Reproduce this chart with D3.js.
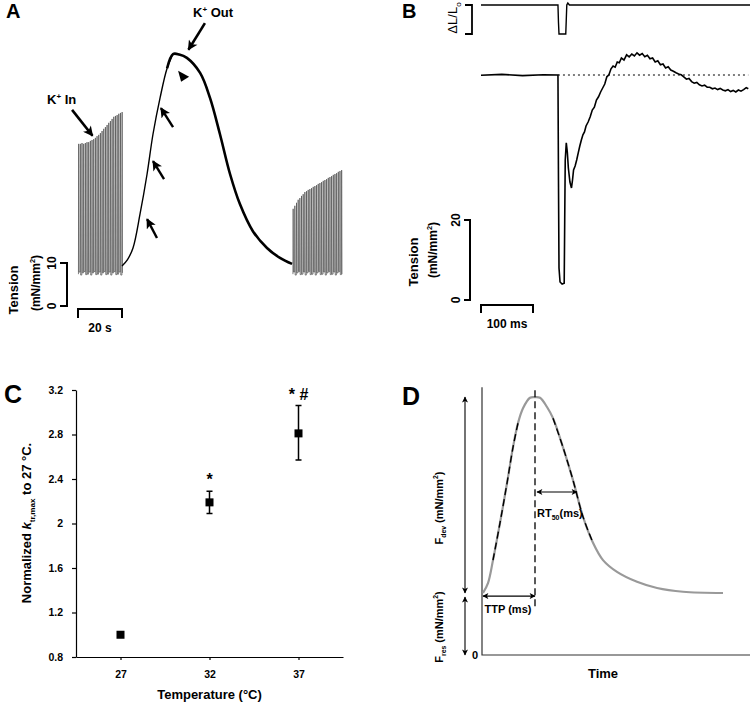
<!DOCTYPE html>
<html><head><meta charset="utf-8">
<script src="https://cdn.jsdelivr.net/npm/d3@7"></script>
<style>
body{margin:0;background:#fff}
text{font-family:"Liberation Sans",Arial,sans-serif;font-weight:bold;fill:#000}
</style></head>
<body><svg id="c" width="750" height="703"></svg>
<script>
// ---------------- Panel A data ----------------
const twitchPeriodA = 0.76;           // s between stimuli
const group1StartA = 0.2;             // s
const group1PeaksA = [37.7,37.7,37.9,37.7,37.9,38.1,38.1,38.4,38.6,38.8,39.1,39.5,39.8,40.2,40.7,41.2,41.6,42.1,42.6,43.0,43.5,44.0,44.2,44.4,44.7,44.9,45.1];
const group3StartA = 97.7;
const group3PeaksA = [22.6,23.3,24.0,24.7,25.1,25.6,26.0,26.5,26.7,27.0,27.2,27.4,27.7,27.9,28.1,28.4,28.6,28.8,29.1,29.3,29.5,29.8,30.0,30.2,30.5,30.7,30.9,31.2,31.4,31.6];
const twitchRestA = [7.4,7.9,7.2,7.7,8.0,7.3];
const contractureTime = [20.0,22.5,25.0,28.2,31.4,34.1,37.3,40.5,43.2,46.0,49.5,55.5,60.0,64.5,69.1,73.6,79.5,85.9,91.8,97.3];
const contractureTension = [9.3,10.8,13.5,21.4,30.7,40.0,48.4,55.3,58.6,58.5,57.7,54.2,48.4,40.0,30.7,23.7,17.4,13.5,11.2,9.8];
const arrowsA = [ // [tailT, tailF, headT, headF]
  [-2.7,45.6,6.6,39.6],
  [35.9,15.8,31.4,20.2],
  [39.1,29.5,34.1,33.7],
  [43.2,41.6,37.7,46.0],
  [57.7,65.8,50.2,59.6]
];
const triangleA = [45.5,54.7];

// ---------------- Panel B data ----------------
const lengthTime = [0,148,149,150,163,164,165,167,170,518];
const lengthValue = [0,0,-0.6,-1,-1,-0.5,0,0.07,0,0];
const tensionTimeB = [0,40,80,120,148,149,150,152,156,160,161,162,164,166,168,171,174,176,178,181,184,187,190,193,196,199,202,206,210,214,218,222,226,230,234,238,242,246,250,254,258,262,266,270,275,280,285,290,295,300,305,310,315,320,325,330,335,340,345,350,355,360,365,370,375,380,385,390,395,400,405,410,415,420,425,430,435,440,445,450,455,460,465,470,475,480,485,490,495,500,505,510,514];
const tensionValueB = [56.2,56.4,56.1,56.3,56.25,30,8,4.5,4.0,4.2,20,35,39.3,37,33,29.5,28,30,32.5,33.5,35,36.8,38.5,40,41.3,42,43.5,44.5,45.8,47.5,48.2,50,50.8,52,53,54,55.8,56.3,57.8,58.5,58.2,59.5,59.3,60.5,60,61.3,60.8,61.5,61,61.8,61.2,61.6,60.8,61.2,60.3,60.5,59.5,59.8,58.8,59,58,58.3,57.5,57.2,56.8,56.5,56.3,55.8,55.2,55.4,54.6,54.2,54.4,53.8,53.5,53.7,53.2,53.2,52.8,53,52.6,52.9,52.5,52.3,52.6,52.1,52.4,52.0,52.5,52.2,52.6,53.1,52.8];
const restTensionB = 56.25;

// ---------------- Panel C data ----------------
const temperatures = [27,32,37];
const ktrMean = [1.0,2.19,2.81];
const ktrLow = [1.0,2.09,2.57];
const ktrHigh = [1.0,2.29,3.06];
const ktrMarks = ["","*","* #"];
const yTicksC = [0.8,1.2,1.6,2,2.4,2.8,3.2];

// ---------------- Panel D data ----------------
const twitchTimeD = [2,12,22,36,50,62,72,82,96,106,116,130,142,162,182,202,222,242,270,310,350,402,482];
const twitchForceD = [10,11.6,15.3,21.3,27.7,33.5,37.4,39.8,41.5,41.6,41.5,40,38.2,33.5,28.2,22.3,18.1,15.3,13.4,11.8,10.8,10.2,10];

const svg = d3.select("#c");
const defs = svg.append("defs");
function marker(id, w, h, fill){
  defs.append("marker").attr("id",id).attr("viewBox","0 0 10 10")
    .attr("refX",9).attr("refY",5).attr("markerWidth",w).attr("markerHeight",h)
    .attr("markerUnits","userSpaceOnUse").attr("orient","auto-start-reverse")
    .append("path").attr("d","M0,0 L10,5 L0,10 L2.5,5 z").attr("fill",fill);
}
marker("headBig",11,10,"#000");
marker("headSmall",7,6,"#000");

function panelLabel(t,x,y,size){
  svg.append("text").attr("x",x).attr("y",y).attr("font-size",size).text(t);
}
function rotLabel(g,x,y,size,parts){
  const t = g.append("text").attr("transform",`translate(${x},${y}) rotate(-90)`)
    .attr("text-anchor","middle").attr("font-size",size);
  parts.forEach(p=>{
    const s = t.append("tspan").text(p.t);
    if(p.sub){ s.attr("font-size",size*0.62).attr("dy",size*0.3); }
    if(p.sup){ s.attr("font-size",size*0.62).attr("dy",-size*0.45); }
    if(p.back){ s.attr("dy",p.back); }
    if(p.it) s.attr("font-style","italic");
  });
  return t;
}

// ================= Panel A =================
panelLabel("A",6,18,20);
const xA = d3.scaleLinear().domain([0,20]).range([78,122]);
const yA = d3.scaleLinear().domain([0,10]).range([306,263]);
const gA = svg.append("g");

function twitchPath(start, peaks){
  let d = "";
  peaks.forEach((p,i)=>{
    const t = start + i*twitchPeriodA;
    const r0 = twitchRestA[i % twitchRestA.length];
    const r1 = twitchRestA[(i+1) % twitchRestA.length];
    d += (i===0?"M":"L") + xA(t)+","+yA(r0);
    d += "L"+xA(t+0.1)+","+yA(p);
    d += "L"+xA(t+0.25)+","+yA(r1);
  });
  return d;
}
gA.append("path").attr("d",twitchPath(group1StartA,group1PeaksA))
  .attr("fill","none").attr("stroke","#555").attr("stroke-width",0.75);
gA.append("path").attr("d",twitchPath(group3StartA,group3PeaksA))
  .attr("fill","none").attr("stroke","#555").attr("stroke-width",0.75);

const cPts = contractureTime.map((t,i)=>[t,contractureTension[i]]);
const lineA = d3.line().x(d=>xA(d[0])).y(d=>yA(d[1])).curve(d3.curveCatmullRom);
const peakIdx = d3.maxIndex(contractureTension);
gA.append("path").attr("d",lineA(cPts.slice(0,peakIdx+1)))
  .attr("fill","none").attr("stroke","#000").attr("stroke-width",1.4);
gA.append("path").attr("d",lineA(cPts.slice(peakIdx-1)))
  .attr("fill","none").attr("stroke","#000").attr("stroke-width",2.6);

arrowsA.forEach((a,i)=>{
  gA.append("line").attr("x1",xA(a[0])).attr("y1",yA(a[1])).attr("x2",xA(a[2])).attr("y2",yA(a[3]))
    .attr("stroke","#000").attr("stroke-width",i===0||i===4?2.6:2.4)
    .attr("marker-end",`url(#headBig)`);
});
{
  const ax = xA(triangleA[0]), ay = yA(triangleA[1]);
  gA.append("path").attr("d",`M${ax},${ay} L${ax+11},${ay+6} L${ax+3},${ay+11} Z`).attr("fill","#000");
}
// labels
{
  const t = gA.append("text").attr("x",47).attr("y",104).attr("font-size",13);
  t.append("tspan").text("K");
  t.append("tspan").text("+").attr("font-size",8).attr("dy",-5);
  t.append("tspan").text(" In").attr("dy",5);
  const t2 = gA.append("text").attr("x",193).attr("y",17).attr("font-size",13);
  t2.append("tspan").text("K");
  t2.append("tspan").text("+").attr("font-size",8).attr("dy",-5);
  t2.append("tspan").text(" Out").attr("dy",5);
}
// scale bars
gA.append("path").attr("d",`M60,${yA(10)} H67 V${yA(0)} H60`).attr("fill","none").attr("stroke","#000").attr("stroke-width",2);
rotLabel(gA,56,yA(10),12,[{t:"10"}]).attr("text-anchor","middle");
rotLabel(gA,56,yA(0),12,[{t:"0"}]);
rotLabel(gA,40,283,12,[{t:"(mN/mm"},{t:"2",sup:true},{t:")",back:5.4}]);
rotLabel(gA,18,290,13,[{t:"Tension"}]);
gA.append("path").attr("d",`M${xA(0)},318 V309 H${xA(20)} V318`).attr("fill","none").attr("stroke","#000").attr("stroke-width",2);
gA.append("text").attr("x",(xA(0)+xA(20))/2).attr("y",332).attr("text-anchor","middle").attr("font-size",12).text("20 s");

// ================= Panel B =================
panelLabel("B",402,18,20);
const xB = d3.scaleLinear().domain([0,100]).range([481,533]);
const yB = d3.scaleLinear().domain([0,20]).range([300,220]);
const yL = d3.scaleLinear().domain([0,-1]).range([5,34]);
const gB = svg.append("g");
gB.append("path").attr("d",d3.line().x((d,i)=>xB(lengthTime[i])).y((d,i)=>yL(lengthValue[i]))(lengthTime))
  .attr("fill","none").attr("stroke","#000").attr("stroke-width",1.4);
gB.append("path").attr("d",`M465,${yL(0)} H472 V${yL(-1)} H465`).attr("fill","none").attr("stroke","#000").attr("stroke-width",1.8);
rotLabel(gB,457,18,13,[{t:"ΔL/L"},{t:"o",sub:true}]).style("font-weight","normal");

gB.append("line").attr("x1",xB(148)).attr("x2",xB(514)).attr("y1",yB(restTensionB)).attr("y2",yB(restTensionB))
  .attr("stroke","#000").attr("stroke-width",1).attr("stroke-dasharray","2,3");
gB.append("path").attr("d",d3.line().x((d,i)=>xB(tensionTimeB[i])).y((d,i)=>yB(tensionValueB[i]))(tensionTimeB))
  .attr("fill","none").attr("stroke","#000").attr("stroke-width",1.6);

gB.append("path").attr("d",`M464,${yB(20)} H470 V${yB(0)} H464`).attr("fill","none").attr("stroke","#000").attr("stroke-width",2);
rotLabel(gB,460,yB(20),12,[{t:"20"}]);
rotLabel(gB,460,yB(0),12,[{t:"0"}]);
rotLabel(gB,437,250,12,[{t:"(mN/mm"},{t:"2",sup:true},{t:")",back:5.4}]);
rotLabel(gB,418,262,13,[{t:"Tension"}]);
gB.append("path").attr("d",`M${xB(0)},313 V305 H${xB(100)} V313`).attr("fill","none").attr("stroke","#000").attr("stroke-width",2);
gB.append("text").attr("x",(xB(0)+xB(100))/2).attr("y",328).attr("text-anchor","middle").attr("font-size",12).text("100 ms");

// ================= Panel C =================
panelLabel("C",4,403,25);
const xC = d3.scaleLinear().domain([24.5,39.5]).range([76,343]);
const yC = d3.scaleLinear().domain([0.8,3.2]).range([657,390]);
const gC = svg.append("g");
const axL = gC.append("g").attr("transform","translate(76,0)")
  .call(d3.axisLeft(yC).tickValues(yTicksC).tickSize(4).tickSizeOuter(0).tickPadding(9).tickFormat(d=>String(d)));
const axB = gC.append("g").attr("transform","translate(0,657)")
  .call(d3.axisBottom(xC).tickValues(temperatures).tickSize(3).tickSizeOuter(0).tickPadding(11).tickFormat(d=>String(d)));
[axL,axB].forEach(a=>{
  a.selectAll("path,line").attr("stroke","#000").attr("stroke-width",1.2);
  a.selectAll("text").attr("font-size",10.5).attr("font-family","Liberation Sans, Arial, sans-serif").attr("font-weight","bold").attr("fill","#000");
});
temperatures.forEach((t,i)=>{
  if(ktrHigh[i]!==ktrLow[i]){
    gC.append("path").attr("d",`M${xC(t)-3},${yC(ktrHigh[i])} H${xC(t)+3} M${xC(t)},${yC(ktrHigh[i])} V${yC(ktrLow[i])} M${xC(t)-3},${yC(ktrLow[i])} H${xC(t)+3}`)
      .attr("stroke","#000").attr("stroke-width",1.5).attr("fill","none");
  }
  gC.append("rect").attr("x",xC(t)-4).attr("y",yC(ktrMean[i])-4).attr("width",8).attr("height",8).attr("fill","#000");
  if(ktrMarks[i]) gC.append("text").attr("x",xC(t)).attr("y",yC(ktrHigh[i])-6).attr("text-anchor","middle").attr("font-size",16).text(ktrMarks[i]);
});
gC.append("text").attr("x",(xC(24.5)+xC(39.5))/2).attr("y",699).attr("text-anchor","middle").attr("font-size",13).text("Temperature (°C)");
rotLabel(gC,31,523,13,[{t:"Normalized "},{t:"k",it:true},{t:"tr,max",sub:true},{t:" to 27 °C.",back:-13*0.3}]);

// ================= Panel D =================
panelLabel("D",402,405,25);
const xD = d3.scaleLinear().domain([0,536]).range([482,750]);
const yD = d3.scaleLinear().domain([0,10]).range([655,593]);
const gD = svg.append("g");
gD.append("path").attr("d",`M${xD(0)},${yD(43.2)} V${yD(0)} H${xD(536)}`).attr("fill","none").attr("stroke","#333").attr("stroke-width",1.2);
gD.append("text").attr("x",478).attr("y",659).attr("text-anchor","end").attr("font-size",11).text("0");
const dPts = twitchTimeD.map((t,i)=>[t,twitchForceD[i]]);
const lineD = d3.line().x(d=>xD(d[0])).y(d=>yD(d[1])).curve(d3.curveCatmullRom);
gD.append("path").attr("d",lineD(dPts)).attr("fill","none").attr("stroke","#999").attr("stroke-width",2.2);
// tangent dashed segments
gD.append("path").attr("d",lineD(dPts.slice(2,7))).attr("fill","none").attr("stroke","#000").attr("stroke-width",1.4).attr("stroke-dasharray","7,4");
gD.append("path").attr("d",lineD(dPts.slice(12,17))).attr("fill","none").attr("stroke","#000").attr("stroke-width",1.4).attr("stroke-dasharray","7,4");
const peakT = twitchTimeD[d3.maxIndex(twitchForceD)];
gD.append("line").attr("x1",xD(peakT)).attr("x2",xD(peakT)).attr("y1",yD(42.7)).attr("y2",yD(7.3))
  .attr("stroke","#000").attr("stroke-width",1.3).attr("stroke-dasharray","7,4");
function dArrow(x1,y1,x2,y2){
  gD.append("line").attr("x1",x1).attr("y1",y1).attr("x2",x2).attr("y2",y2)
    .attr("stroke","#000").attr("stroke-width",1.1).attr("marker-start","url(#headSmall)").attr("marker-end","url(#headSmall)");
}
const restF = twitchForceD[0], peakF = d3.max(twitchForceD);
dArrow(xD(-34),yD(peakF),xD(-34),yD(restF));
dArrow(xD(-34),yD(restF)+4,xD(-34),yD(0));
dArrow(xD(twitchTimeD[0]),yD(9.5),xD(peakT),yD(9.5));
dArrow(xD(peakT+4),yD(26.3),xD(190),yD(26.3));
gD.append("text").attr("x",xD(52)).attr("y",613).attr("text-anchor","middle").attr("font-size",11).text("TTP (ms)");
{
  const t = gD.append("text").attr("x",537).attr("y",517).attr("font-size",11);
  t.append("tspan").text("RT");
  t.append("tspan").text("50").attr("font-size",7).attr("dy",3);
  t.append("tspan").text("(ms)").attr("dy",-3);
}
rotLabel(gD,443,508,11,[{t:"F"},{t:"dev",sub:true},{t:" (mN/mm",back:-3.3},{t:"2",sup:true},{t:")",back:5}]);
rotLabel(gD,443,627,11,[{t:"F"},{t:"res",sub:true},{t:" (mN/mm",back:-3.3},{t:"2",sup:true},{t:")",back:5}]);
gD.append("text").attr("x",603).attr("y",678).attr("text-anchor","middle").attr("font-size",13).text("Time");
</script></body></html>
